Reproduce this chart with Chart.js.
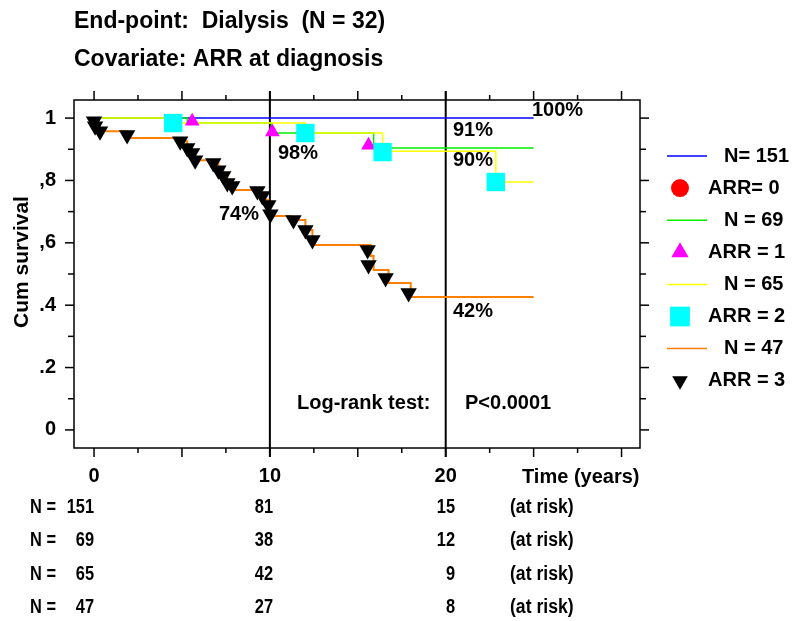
<!DOCTYPE html>
<html>
<head>
<meta charset="utf-8">
<script src="https://cdn.jsdelivr.net/npm/chart.js@4/dist/chart.umd.min.js"></script>
<style>
  html, body { margin: 0; padding: 0; background: #fff; overflow: hidden; }
</style>
</head>
<body>
<canvas id="myChart" width="793" height="621"></canvas>
<script>
// survival curves (time in years, cum survival)
var timesN151 = [0, 25];
var survN151  = [1, 1];
var timesN69  = [0, 5.30, 10.09, 15.90, 25];
var survN69   = [1, 0.984, 0.952, 0.904, 0.904];
var timesN65  = [0, 4.50, 12.02, 16.41, 22.85, 25];
var survN65   = [1, 0.984, 0.952, 0.894, 0.795, 0.795];
var timesN47  = [0, 0.06, 0.34, 1.88, 4.90, 5.30, 5.58, 5.75, 6.72, 7.07, 7.35, 7.58, 7.86,
                 9.17, 9.57, 9.91, 10.03, 11.17, 12.02, 12.42, 15.73, 15.90, 16.75, 18.01, 25];
var survN47   = [1, 0.974, 0.958, 0.936, 0.926, 0.904, 0.888, 0.865, 0.856, 0.833, 0.814, 0.792, 0.769,
                 0.760, 0.737, 0.712, 0.686, 0.673, 0.641, 0.593, 0.558, 0.513, 0.471, 0.426, 0.426];

// markers
var arr0Times = [];
var arr0Surv  = [];
var arr1Times = [5.58, 10.14, 15.61];
var arr1Surv  = [0.990, 0.955, 0.913];
var arr2Times = [4.50, 12.02, 16.41, 22.85];
var arr2Surv  = [0.984, 0.952, 0.891, 0.795];
var arr3Times = [0.0, 0.06, 0.34, 1.88, 4.90, 5.30, 5.58, 5.75, 6.78, 7.07, 7.35, 7.58, 7.86,
                 9.29, 9.57, 9.91, 10.03, 11.34, 12.02, 12.42, 15.56, 15.61, 16.58, 17.89];
var arr3Surv  = [0.990, 0.974, 0.958, 0.946, 0.926, 0.904, 0.888, 0.865, 0.856, 0.833, 0.814, 0.792, 0.782,
                 0.766, 0.750, 0.721, 0.692, 0.673, 0.641, 0.609, 0.577, 0.529, 0.487, 0.439];

var xTicks = [0, 10, 20];
var xTickLabels = ['0', '10', '20'];
var yTicks = [0, 0.2, 0.4, 0.6, 0.8, 1];
var yTickLabels = ['0', '.2', '.4', ',6', ',8', '1'];
var refLines = [10, 20];

var legendLabels = ['N= 151', 'ARR= 0', 'N = 69', 'ARR = 1', 'N = 65', 'ARR = 2', 'N = 47', 'ARR = 3'];
var riskTimes = [0, 10, 20];
var riskN151 = [151, 81, 15];
var riskN69  = [69, 38, 12];
var riskN65  = [65, 42, 9];
var riskN47  = [47, 27, 8];

var titleLines = ['End-point:  Dialysis  (N = 32)', 'Covariate: ARR at diagnosis'];
var pctLabels = ['100%', '91%', '90%', '42%', '98%', '74%'];

function pts(ts, vs) {
  return ts.map(function (t, i) { return {x: t, y: vs[i]}; });
}

var FONT = '"Liberation Sans", Arial, sans-serif';

function lineDs(label, ts, vs, color, order, w) {
  return {label: label, data: pts(ts, vs), showLine: true, stepped: true,
          borderColor: color, backgroundColor: color, borderWidth: w || 1.5,
          pointRadius: 0, order: order};
}
function markDs(label, ts, vs, color, style, r, rot, order) {
  return {label: label, data: pts(ts, vs), showLine: false, pointStyle: style,
          pointRadius: r, pointRotation: rot, backgroundColor: color, borderColor: color,
          borderWidth: 0, order: order};
}

var datasets = [
  lineDs('N= 151', timesN151, survN151, '#0000ff', 6),
  markDs('ARR= 0', arr0Times, arr0Surv, '#ff0000', 'circle', 9, 0, 0),
  lineDs('N = 69', timesN69, survN69, '#00ee00', 5),
  markDs('ARR = 1', arr1Times, arr1Surv, '#ff00ff', 'triangle', 8.5, 0, 2),
  lineDs('N = 65', timesN65, survN65, '#ffff00', 4),
  markDs('ARR = 2', arr2Times, arr2Surv, '#00ffff', 'rect', 13, 0, 1),
  lineDs('N = 47', timesN47, survN47, '#ff8000', 3, 2),
  markDs('ARR = 3', arr3Times, arr3Surv, '#000000', 'triangle', 9.5, 180, 0)
];

function seg(ctx, x1, y1, x2, y2) {
  ctx.beginPath(); ctx.moveTo(x1, y1); ctx.lineTo(x2, y2); ctx.stroke();
}
function narrow(ctx, text, x, y, align, sx) {
  ctx.save();
  ctx.translate(x, y);
  ctx.scale(sx, 1);
  ctx.textAlign = align;
  ctx.fillText(text, 0, 0);
  ctx.restore();
}

var frame = {
  id: 'frame',
  beforeDatasetsDraw: function (chart) {
    var ctx = chart.ctx, a = chart.chartArea, x = chart.scales.x, y = chart.scales.y;
    ctx.save();
    ctx.strokeStyle = '#000';
    ctx.lineWidth = 1.5;
    ctx.strokeRect(a.left, a.top, a.right - a.left, a.bottom - a.top);
    for (var t = 0; t <= 30; t += 2.5) {
      var px = x.getPixelForValue(t), len = (t % 5 === 0) ? 9 : 5;
      seg(ctx, px, a.bottom, px, a.bottom + len);
      seg(ctx, px, a.top, px, a.top - len);
    }
    for (var i = 0; i <= 10; i++) {
      var py = y.getPixelForValue(i / 10), l2 = (i % 2 === 0) ? 9 : 6;
      seg(ctx, a.left, py, a.left - l2, py);
      seg(ctx, a.right, py, a.right + l2, py);
    }
    ctx.lineWidth = 2;
    refLines.forEach(function (t) {
      var px = x.getPixelForValue(t);
      seg(ctx, px, a.top - 9, px, a.bottom + 9);
    });
    ctx.restore();
  },
  afterDraw: function (chart) {
    var ctx = chart.ctx, a = chart.chartArea, x = chart.scales.x, y = chart.scales.y;
    ctx.save();
    ctx.fillStyle = '#000';
    ctx.textBaseline = 'middle';

    // titles
    ctx.font = 'bold 23px ' + FONT;
    ctx.textAlign = 'left';
    ctx.fillText(titleLines[0], 74, 22);
    ctx.fillText(titleLines[1], 74, 60);

    // y axis
    ctx.font = 'bold 20px ' + FONT;
    ctx.textAlign = 'right';
    yTicks.forEach(function (v, i) { ctx.fillText(yTickLabels[i], 56, y.getPixelForValue(v)); });
    ctx.save();
    ctx.translate(22, 262);
    ctx.rotate(-Math.PI / 2);
    ctx.textAlign = 'center';
    ctx.font = 'bold 21px ' + FONT;
    ctx.fillText('Cum survival', 0, 0);
    ctx.restore();

    // x axis
    ctx.textAlign = 'center';
    xTicks.forEach(function (t, i) { ctx.fillText(xTickLabels[i], x.getPixelForValue(t), 476); });
    ctx.textAlign = 'left';
    ctx.fillText('Time (years)', 522, 477);

    // percentages
    var pctPos = [[532, 110], [453, 130], [453, 160], [453, 311], [278, 153], [219, 214]];
    pctLabels.forEach(function (s, i) { ctx.fillText(s, pctPos[i][0], pctPos[i][1]); });
    ctx.fillText('Log-rank test:', 297, 403);
    ctx.fillText('P<0.0001', 465, 403);

    // at risk table
    ctx.font = 'bold 20px ' + FONT;
    var rows = [riskN151, riskN69, riskN65, riskN47];
    var colX = [94, 273, 455];
    rows.forEach(function (r, j) {
      var ry = 507 + j * 33.5;
      narrow(ctx, 'N =', 30, ry, 'left', 0.82);
      r.forEach(function (n, k) { narrow(ctx, String(n), colX[k], ry, 'right', 0.82); });
      narrow(ctx, '(at risk)', 510, ry, 'left', 0.88);
    });

    // legend
    ctx.font = 'bold 20px ' + FONT;
    ctx.textAlign = 'left';
    legendLabels.forEach(function (s, i) {
      var ly = 156 + i * 32.1;
      var ds = chart.data.datasets[i];
      if (ds.showLine) {
        ctx.strokeStyle = ds.borderColor;
        ctx.lineWidth = 1.5;
        seg(ctx, 667, ly, 707, ly);
        ctx.fillText(s, 724, ly);
      } else {
        var r = {circle: 9, triangle: 10, rect: 14}[ds.pointStyle];
        if (ds.pointRotation) r = 9;
        ctx.fillStyle = ds.backgroundColor;
        Chart.helpers.drawPoint(ctx, {pointStyle: ds.pointStyle, radius: r,
          rotation: ds.pointRotation, borderWidth: 0}, 680, ly);
        ctx.fillStyle = '#000';
        ctx.fillText(s, 708, ly);
      }
    });
    ctx.restore();
  }
};

var ctx = document.getElementById('myChart').getContext('2d');
var myChart = new Chart(ctx, {
  type: 'scatter',
  data: {datasets: datasets},
  options: {
    responsive: false,
    animation: false,
    devicePixelRatio: 1,
    layout: {padding: {left: 74, right: 153, top: 100, bottom: 173}},
    plugins: {legend: {display: false}, tooltip: {enabled: false}},
    scales: {
      x: {type: 'linear', min: -1.14, max: 31.05, display: false},
      y: {type: 'linear', min: -0.058, max: 1.058, display: false}
    }
  },
  plugins: [frame]
});
</script>
</body>
</html>
